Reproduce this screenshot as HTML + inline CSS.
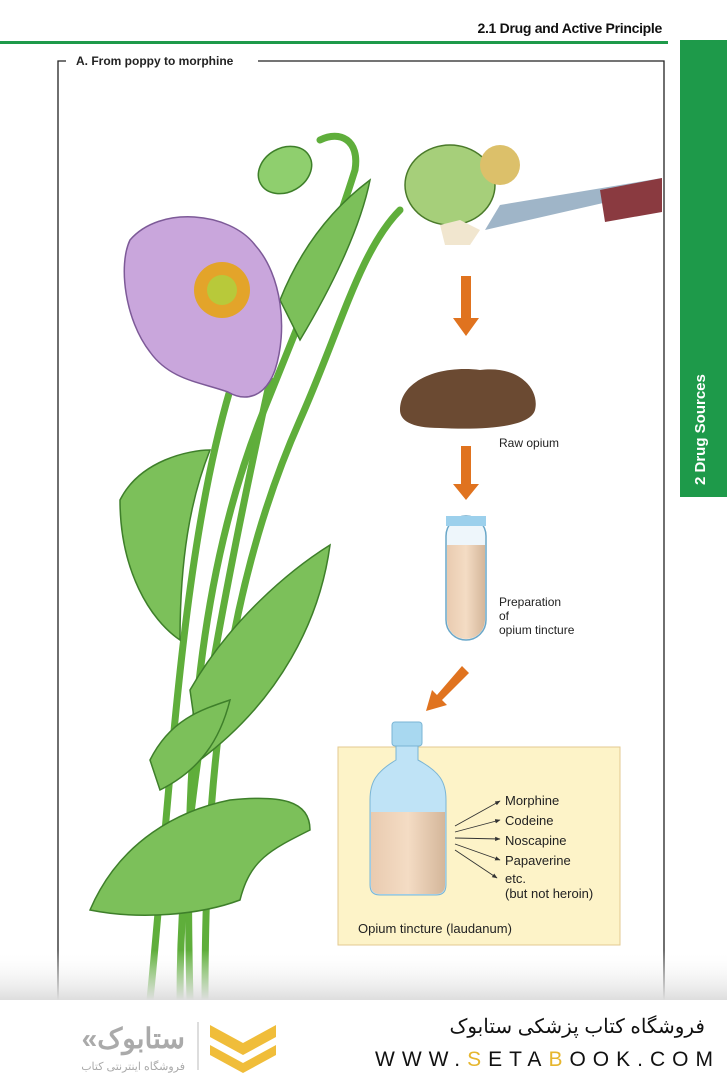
<!DOCTYPE html>
<html><head><meta charset="utf-8"><style>
body{margin:0;width:727px;height:1080px;background:#fff;overflow:hidden;font-family:"Liberation Sans",sans-serif}
</style></head><body>
<svg width="727" height="1080" viewBox="0 0 727 1080" xmlns="http://www.w3.org/2000/svg" font-family="Liberation Sans, sans-serif">
<defs>
<linearGradient id="fade" x1="0" y1="0" x2="0" y2="1"><stop offset="0" stop-color="#fff" stop-opacity="0"/><stop offset="1" stop-color="#ddd"/></linearGradient>
<linearGradient id="liq" x1="0" y1="0" x2="1" y2="0"><stop offset="0" stop-color="#e9cbb0"/><stop offset="0.5" stop-color="#f4dcc4"/><stop offset="1" stop-color="#d4b69a"/></linearGradient>
<marker id="ah" viewBox="0 0 10 10" refX="9" refY="5" markerWidth="6" markerHeight="6" orient="auto"><path d="M0 1L10 5L0 9z" fill="#333"/></marker>
</defs>
<text x="662" y="33" text-anchor="end" font-size="14" font-weight="bold" fill="#111" letter-spacing="-0.3">2.1  Drug and Active Principle</text>
<rect x="0" y="41" width="668" height="3" fill="#1e9a4a"/>
<rect x="680" y="40" width="47" height="457" fill="#1e9a4a"/>
<text transform="translate(705,485) rotate(-90)" font-size="15" font-weight="bold" fill="#fff">2  Drug Sources</text>
<path d="M58 1000 V61 H66 M258 61 H664 V1000" stroke="#222" stroke-width="1.3" fill="none"/>
<text x="76" y="65" font-size="12" font-weight="bold" fill="#222">A. From poppy to morphine</text>
<g stroke="#5fae3b" stroke-width="7" fill="none" stroke-linecap="round">
<path d="M150 1000 C170 800 180 560 230 390"/>
<path d="M190 1000 C185 800 190 600 260 420 C300 320 330 250 355 170 C360 140 340 130 320 140"/>
<path d="M205 1000 C205 800 220 600 300 420 C340 330 360 250 400 210"/>
<path d="M180 1000 C180 850 200 700 270 380"/>
</g>
<g fill="#7cc05a" stroke="#3e7f2a" stroke-width="1.5">
<path d="M120 500 C140 460 190 450 210 450 C190 500 180 560 180 640 C150 620 120 570 120 500Z"/>
<path d="M190 690 C230 620 290 570 330 545 C320 620 280 700 200 760 Z"/>
<path d="M90 910 C120 840 180 810 230 800 C280 795 310 800 310 830 C270 850 250 860 240 900 C200 915 140 920 90 910Z"/>
<path d="M280 300 C300 250 330 210 370 180 C360 230 330 290 300 340Z"/>
<path d="M150 760 C170 720 200 710 230 700 C220 740 200 770 160 790Z"/>
</g>
<path d="M130 240 C160 205 230 212 255 245 C282 275 288 330 275 370 C265 398 245 402 228 392 C200 382 170 380 150 352 C125 320 118 265 130 240Z" fill="#c9a6dc" stroke="#7d5a98" stroke-width="1.5"/>
<circle cx="222" cy="290" r="28" fill="#e3a42a"/>
<circle cx="222" cy="290" r="15" fill="#b8c93a"/>
<ellipse cx="285" cy="170" rx="28" ry="22" fill="#8fcf6e" stroke="#3e7f2a" stroke-width="1.5" transform="rotate(-30 285 170)"/>
<ellipse cx="450" cy="185" rx="45" ry="40" fill="#a6cf7a" stroke="#4a7a2a" stroke-width="1.5"/>
<circle cx="500" cy="165" r="20" fill="#dcc06a"/>
<path d="M440 225 l20 -5 l20 10 l-10 15 l-25 0Z" fill="#f1e6cf"/>
<path d="M485 230 L660 190 L662 178 L500 205Z" fill="#9fb5c8"/>
<path d="M600 190 L662 178 L662 212 L605 222Z" fill="#8a3a40"/>
<g fill="#e0731f">
<path d="M461 276h10v42h8l-13 18-13-18h8z"/>
<path d="M461 446h10v38h8l-13 16-13-16h8z"/>
<path d="M462 666l7 7-27 27 5 5-21 6 6-21 5 5z"/>
</g>
<path d="M400 410 C400 380 440 365 480 370 C520 365 540 390 535 410 C530 428 480 430 440 428 C410 428 400 420 400 410Z" fill="#6b4a32"/>
<text x="499" y="447" font-size="12" fill="#222">Raw opium</text>
<rect x="446" y="516" width="40" height="124" rx="20" fill="#eef6fb" stroke="#6aa7c8" stroke-width="1.5"/>
<rect x="446" y="516" width="40" height="10" fill="#9cd0ec"/>
<path d="M447 545 H485 V620 A19 19 0 0 1 447 620Z" fill="url(#liq)"/>
<text x="499" y="606" font-size="12" fill="#222">Preparation</text>
<text x="499" y="620" font-size="12" fill="#222">of</text>
<text x="499" y="634" font-size="12" fill="#222">opium tincture</text>
<rect x="338" y="747" width="282" height="198" fill="#fdf3c8" stroke="#e3c990" stroke-width="1"/>
<rect x="392" y="722" width="30" height="24" rx="3" fill="#a8d8f0" stroke="#7ab5d5"/>
<path d="M396 746 H418 V760 C440 772 446 782 446 800 V885 Q446 895 436 895 H380 Q370 895 370 885 V800 C370 782 376 772 396 760Z" fill="#bfe3f6" stroke="#7ab5d5"/>
<path d="M371 812 H445 V885 Q445 894 436 894 H380 Q371 894 371 885Z" fill="url(#liq)"/>
<g stroke="#333" stroke-width="0.9" fill="none" marker-end="url(#ah)">
<line x1="455" y1="826" x2="500" y2="801"/><line x1="455" y1="832" x2="500" y2="820"/><line x1="455" y1="838" x2="500" y2="839"/><line x1="455" y1="844" x2="500" y2="860"/><line x1="455" y1="850" x2="497" y2="878"/>
</g>
<g font-size="13" fill="#222">
<text x="505" y="805">Morphine</text><text x="505" y="825">Codeine</text><text x="505" y="845">Noscapine</text><text x="505" y="865">Papaverine</text><text x="505" y="883">etc.</text><text x="505" y="898">(but not heroin)</text>
<text x="358" y="933">Opium tincture (laudanum)</text>
</g>
<rect x="0" y="950" width="727" height="50" fill="url(#fade)"/>
<rect x="0" y="1000" width="727" height="80" fill="#fff"/>
<text x="705" y="1033" text-anchor="end" font-size="20" fill="#111" font-family="Liberation Sans, Noto Sans CJK SC, sans-serif">فروشگاه کتاب پزشکی ستابوک</text>
<text x="375" y="1066" font-size="21" letter-spacing="7" fill="#111">WWW.<tspan fill="#e6b62e">S</tspan>ETA<tspan fill="#e6b62e">B</tspan>OOK.COM</text>
<path d="M210 1025 l33 18 l33 -18 v12 l-33 18 l-33 -18z M210 1045 l33 18 l33 -18 v10 l-33 18 l-33 -18z" fill="#f0bd3a"/>
<line x1="198" y1="1022" x2="198" y2="1070" stroke="#bbb"/>
<text x="185" y="1048" text-anchor="end" font-size="28" font-weight="bold" fill="#aaa" font-family="Liberation Sans, Noto Sans CJK SC, sans-serif">«ستابوک</text>
<text x="185" y="1070" text-anchor="end" font-size="11" fill="#aaa" font-family="Liberation Sans, Noto Sans CJK SC, sans-serif">فروشگاه اینترنتی کتاب</text>
</svg>
</body></html>
